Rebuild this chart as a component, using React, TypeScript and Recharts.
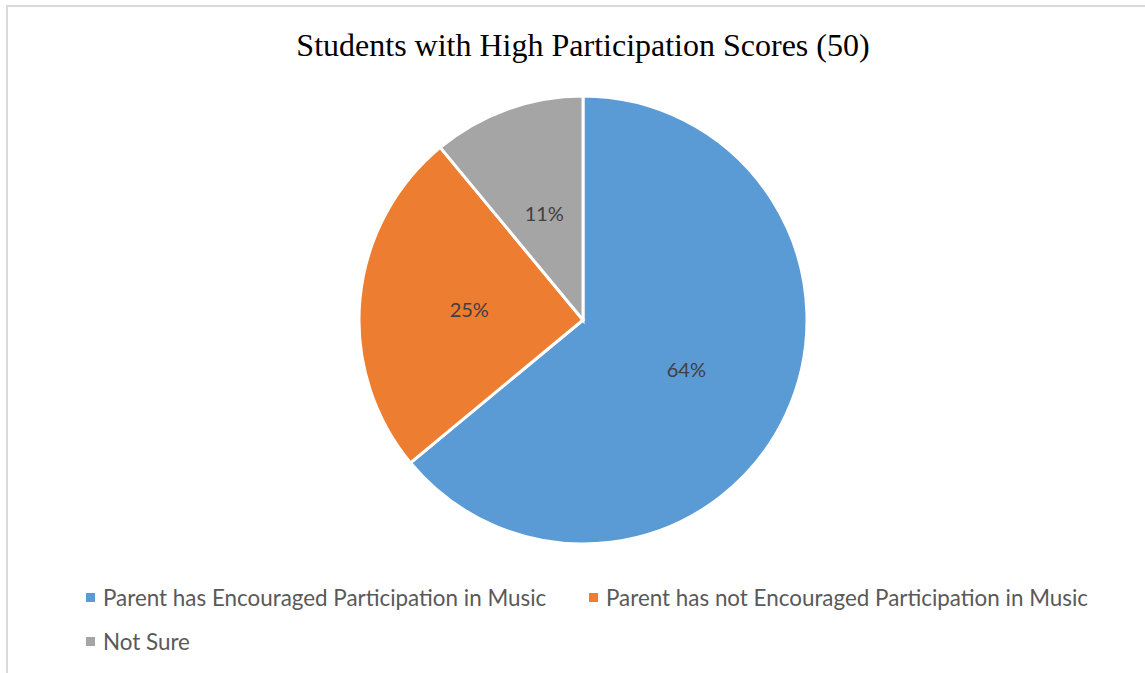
import React from 'react';
import { PieChart, Pie, Cell, Legend } from 'recharts';

const categories = [
  'Parent has Encouraged Participation in Music',
  'Parent has not Encouraged Participation in Music',
  'Not Sure',
];
const values = [64, 25, 11];
const colors = ['#5B9BD5', '#ED7D31', '#A5A5A5'];
const title = 'Students with High Participation Scores (50)';

const data = categories.map((name, i) => ({ name, value: values[i] }));
const RADIAN = Math.PI / 180;

const renderLabel = (props: any) => {
  const { cx, cy, midAngle, outerRadius, percent } = props;
  const r = outerRadius * 0.51;
  const x = cx + r * Math.cos(-midAngle * RADIAN);
  const y = cy + r * Math.sin(-midAngle * RADIAN);
  return (
    <text
      x={x}
      y={y}
      fill="#404040"
      textAnchor="middle"
      dominantBaseline="central"
      fontFamily="Lato, 'Open Sans', sans-serif"
      fontSize={20}
    >
      {`${Math.round(percent * 100)}%`}
    </text>
  );
};

const renderLegend = () => (
  <div
    style={{
      display: 'grid',
      gridTemplateColumns: '503px auto',
      rowGap: 0,
      fontFamily: "Lato, 'Open Sans', sans-serif",
      fontSize: 22.4,
      color: '#595959',
    }}
  >
    {data.map((d, i) => (
      <div key={d.name} style={{ display: 'flex', alignItems: 'center', height: 44 }}>
        <span
          style={{
            display: 'inline-block',
            width: 9,
            height: 9,
            background: colors[i],
            marginRight: 8,
          }}
        />
        <span>{d.name}</span>
      </div>
    ))}
  </div>
);

export default function App() {
  return (
    <div
      style={{
        position: 'absolute',
        left: 0,
        top: 0,
        width: 1145,
        height: 673,
        background: '#fff',
        overflow: 'hidden',
      }}
    >
      <div
        style={{
          position: 'absolute',
          left: 6,
          top: 5,
          width: 1200,
          height: 720,
          borderLeft: '2px solid #d9d9d9',
          borderTop: '2px solid #d9d9d9',
        }}
      />
      <div
        style={{
          position: 'absolute',
          left: 0,
          width: 1166,
          top: 25,
          textAlign: 'center',
          fontFamily: "'Liberation Serif', 'Times New Roman', serif",
          fontSize: 32,
          color: '#000',
          lineHeight: '40px',
        }}
      >
        {title}
      </div>
      <div style={{ position: 'absolute', left: 0, top: 0 }}>
        <PieChart width={1145} height={673} margin={{ top: 0, right: 0, bottom: 0, left: 0 }}>
          <Pie
            data={data}
            dataKey="value"
            nameKey="name"
            cx={583}
            cy={320}
            outerRadius={224}
            startAngle={90}
            endAngle={-270}
            stroke="#ffffff"
            strokeWidth={3}
            label={renderLabel}
            labelLine={false}
            isAnimationActive={false}
          >
            {data.map((d, i) => (
              <Cell key={d.name} fill={colors[i]} />
            ))}
          </Pie>
          <Legend
            content={renderLegend}
            wrapperStyle={{ position: 'absolute', left: 86, top: 575, width: 1055 }}
          />
        </PieChart>
      </div>
    </div>
  );
}
